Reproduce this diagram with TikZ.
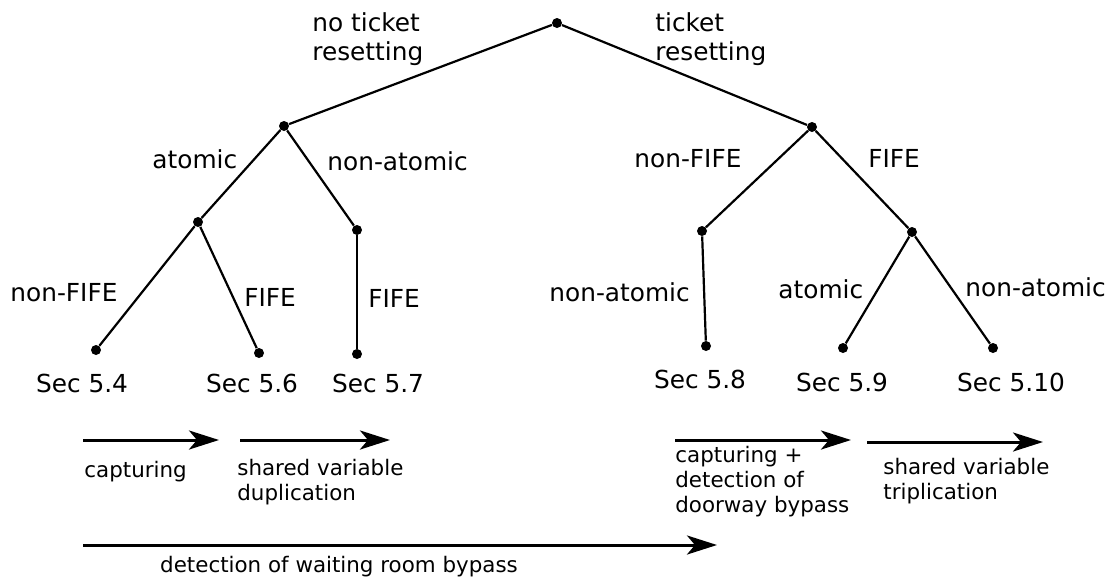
\documentclass[tikz,border=0pt]{standalone}
\usepackage{fontspec}
\setmainfont{DejaVu Sans}
\usetikzlibrary{positioning,arrows.meta}
\tikzset{
  pt/.style={circle, fill, inner sep=0pt, minimum size=5pt},
  lbl/.style={inner sep=0pt, anchor=base west, align=left, font=\fontsize{12.4}{14.2}\selectfont},
  seclbl/.style={inner sep=0pt, anchor=base, font=\fontsize{12.4}{14.2}\selectfont},
  note/.style={inner sep=0pt, anchor=base west, align=left, font=\fontsize{10.7}{12.4}\selectfont},
  branch/.style={line width=1.1pt},
  gain/.style={line width=1.5pt, -{Stealth[length=15pt,width=9.5pt,inset=4pt]}}
}
\begin{document}
\begin{tikzpicture}[x=0.5pt, y=-0.5pt]
  \useasboundingbox (0,0) rectangle (1120,585);
  % tree
  \node[pt] (root) at (557,23) {};
  \node[pt] (nr) at (284,126) {};
  \node[pt] (tr) at (812,127) {};
  \node[pt] (nra) at (198,222) {};
  \node[pt] (nrn) at (357,230) {};
  \node[pt] (trn) at (702,231) {};
  \node[pt] (trf) at (912,232) {};
  \node[pt] (s54) at (96,350) {};
  \node[pt] (s56) at (259,353) {};
  \node[pt] (s57) at (357,354) {};
  \node[pt] (s58) at (706,346) {};
  \node[pt] (s59) at (843,348) {};
  \node[pt] (s510) at (993,348) {};
  \draw[branch] (root) -- (nr);
  \draw[branch] (root) -- (tr);
  \draw[branch] (nr) -- (nra);
  \draw[branch] (nr) -- (nrn);
  \draw[branch] (nra) -- (s54);
  \draw[branch] (nra) -- (s56);
  \draw[branch] (nrn) -- (s57);
  \draw[branch] (tr) -- (trn);
  \draw[branch] (tr) -- (trf);
  \draw[branch] (trn) -- (s58);
  \draw[branch] (trf) -- (s59);
  \draw[branch] (trf) -- (s510);
  % branch labels
  \node[lbl] (lnoreset) at (312,60) {no ticket\\resetting};
  \node[lbl] (lreset) at (655,60) {ticket\\resetting};
  \node[lbl] (latom) at (152,168) {atomic};
  \node[lbl] (lnonatom) at (327,170) {non-atomic};
  \node[lbl] (lnonfife) at (634,167) {non-FIFE};
  \node[lbl] (lfife) at (868,167) {FIFE};
  \node[lbl] (lnonfifeb) at (10,301) {non-FIFE};
  \node[lbl] (lfifeb) at (244,306) {FIFE};
  \node[lbl] (lfifec) at (368,307) {FIFE};
  \node[lbl] (lnonatomb) at (549,301) {non-atomic};
  \node[lbl] (latomb) at (778,298) {atomic};
  \node[lbl] (lnonatomc) at (965,296) {non-atomic};
  % sections
  \node[seclbl] (sec54) at (82,392) {Sec 5.4};
  \node[seclbl] (sec56) at (252,392) {Sec 5.6};
  \node[seclbl] (sec57) at (378,392) {Sec 5.7};
  \node[seclbl] (sec58) at (700,388) {Sec 5.8};
  \node[seclbl] (sec59) at (842,391) {Sec 5.9};
  \node[seclbl] (sec510) at (1011,391) {Sec 5.10};
  % techniques
  \coordinate (a1s) at (83,440);
  \coordinate (a1e) at (219,440);
  \coordinate (a2s) at (240,440);
  \coordinate (a2e) at (390,440);
  \coordinate (a3s) at (675,440);
  \coordinate (a3e) at (851,440);
  \coordinate (a4s) at (867,442);
  \coordinate (a4e) at (1043,442);
  \coordinate (a5s) at (83,545);
  \coordinate (a5e) at (717,545);
  \draw[gain] (a1s) -- (a1e);
  \draw[gain] (a2s) -- (a2e);
  \draw[gain] (a3s) -- (a3e);
  \draw[gain] (a4s) -- (a4e);
  \draw[gain] (a5s) -- (a5e);
  \node[note] (ncap) at (84,477) {capturing};
  \node[note] (ndup) at (237,500) {shared variable\\duplication};
  \node[note] (ndoor) at (675,512) {capturing +\\detection of\\doorway bypass};
  \node[note] (ntrip) at (883,499) {shared variable\\triplication};
  \node[note, anchor=base] (nwait) at (339,572) {detection of waiting room bypass};
\end{tikzpicture}
\end{document}
